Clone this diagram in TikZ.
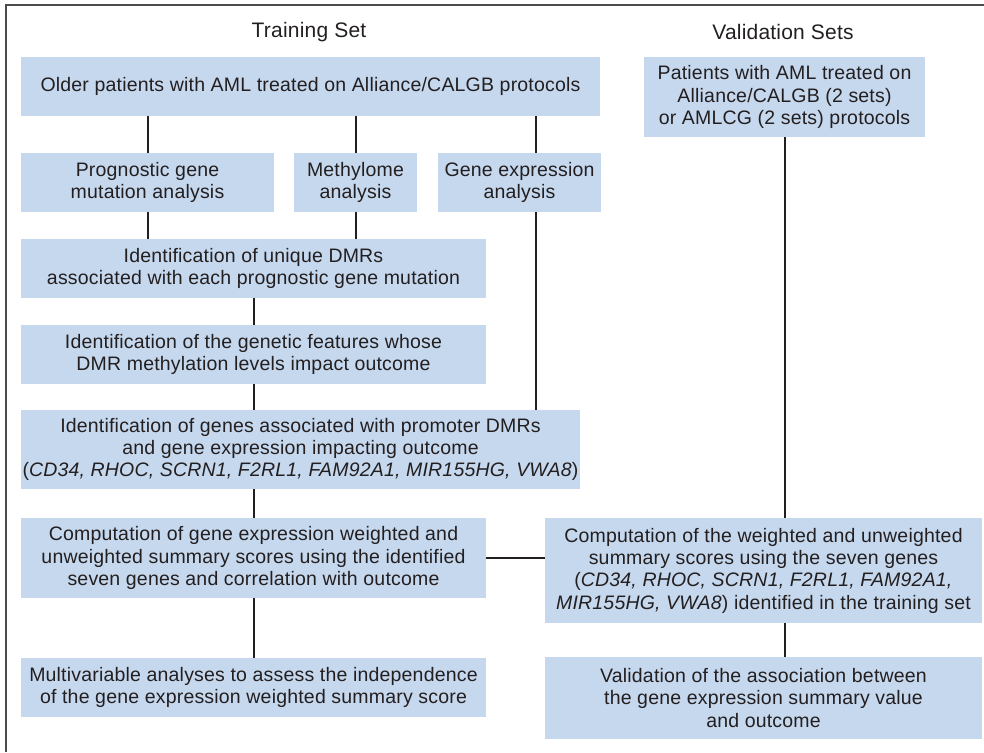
\documentclass[tikz,border=0pt]{standalone}
\usepackage{fontspec}
\setmainfont[LetterSpace=1]{Liberation Sans}
\definecolor{ink}{HTML}{231F20}
\definecolor{boxblue}{HTML}{C6D8EE}
\begin{document}
\begin{tikzpicture}[x=1pt, y=-1pt,
    stepbox/.style={fill=boxblue, text=ink, align=center, inner sep=0pt,
        font=\fontsize{19.5}{22.3}\selectfont},
    link/.style={ink, line width=2pt},
    heading/.style={text=ink, font=\fontsize{21}{24}\selectfont}]
    \useasboundingbox (0,0) rectangle (984,752);
    % frame
    \draw[gray!60!black, line width=1.5pt] (6,752) -- (6,5) -- (984,5);

    % headings
    \node[heading] (trainhead) at (309, 32) {Training Set};
    \node[heading] (valhead) at (783, 32) {Validation Sets};

    % training set
    \node[stepbox, minimum width=579pt, minimum height=59pt] (older) at (310.5, 86.5)
        {Older patients with AML treated on Alliance/CALGB protocols};
    \node[stepbox, minimum width=253pt, minimum height=59pt] (prog) at (147.5, 182.5)
        {Prognostic gene\\mutation analysis};
    \node[stepbox, minimum width=123pt, minimum height=59pt] (methyl) at (355.5, 182.5)
        {Methylome\\analysis};
    \node[stepbox, minimum width=163pt, minimum height=59pt] (geneexp) at (519.5, 182.5)
        {Gene expression\\analysis};
    \node[stepbox, minimum width=465pt, minimum height=59pt] (dmr) at (253.5, 268.5)
        {Identification of unique DMRs\\associated with each prognostic gene mutation};
    \node[stepbox, minimum width=465pt, minimum height=59pt] (feat) at (253.5, 354.5)
        {Identification of the genetic features whose\\DMR methylation levels impact outcome};
    \node[stepbox, minimum width=559pt, minimum height=79pt] (genes) at (300.5, 449.5)
        {Identification of genes associated with promoter DMRs\\and gene expression impacting outcome\\
        (\textit{CD34, RHOC, SCRN1, F2RL1, FAM92A1, MIR155HG, VWA8})};
    \node[stepbox, minimum width=465pt, minimum height=80pt] (comptrain) at (253.5, 558)
        {Computation of gene expression weighted and\\unweighted summary scores using the identified\\seven genes and correlation with outcome};
    \node[stepbox, minimum width=465pt, minimum height=59pt] (multi) at (253.5, 687.5)
        {Multivariable analyses to assess the independence\\of the gene expression weighted summary score};

    % validation sets
    \node[stepbox, minimum width=281pt, minimum height=80pt] (valpat) at (784.5, 97)
        {Patients with AML treated on\\Alliance/CALGB (2 sets)\\or AMLCG (2 sets) protocols};
    \node[stepbox, minimum width=437pt, minimum height=105pt] (compval) at (763.5, 570.5)
        {Computation of the weighted and unweighted\\summary scores using the seven genes\\
        (\textit{CD34, RHOC, SCRN1, F2RL1, FAM92A1,}\\\textit{MIR155HG, VWA8}) identified in the training set};
    \node[stepbox, minimum width=437pt, minimum height=82pt] (valassoc) at (763.5, 698)
        {Validation of the association between\\the gene expression summary value\\and outcome};

    % connectors
    \coordinate (gx) at (536, 0);
    \draw[link] (older.south -| prog.north) -- (prog.north);
    \draw[link] (older.south -| methyl.north) -- (methyl.north);
    \draw[link] (older.south -| gx) -- (geneexp.north -| gx);
    \draw[link] (prog.south) -- (dmr.north -| prog.south);
    \draw[link] (methyl.south) -- (dmr.north -| methyl.south);
    \draw[link] (geneexp.south -| gx) -- (genes.north -| gx);
    \draw[link] (dmr.south) -- (feat.north);
    \draw[link] (feat.south) -- (genes.north -| feat.south);
    \draw[link] (genes.south -| feat.south) -- (comptrain.north);
    \draw[link] (comptrain.south) -- (multi.north);
    \draw[link] (comptrain.east) -- (comptrain.east -| compval.west);
    \draw[link] (valpat.south) -- (valpat.south |- compval.north);
    \draw[link] (valpat.south |- compval.south) -- (valpat.south |- valassoc.north);
\end{tikzpicture}
\end{document}
